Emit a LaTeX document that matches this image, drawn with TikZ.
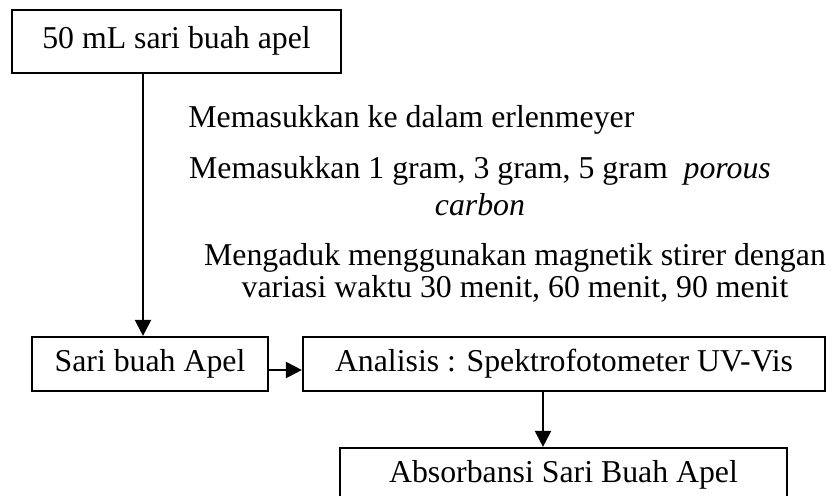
\documentclass[tikz,border=0pt]{standalone}
\usepackage{fontspec}
\setmainfont{Liberation Serif}
\usetikzlibrary{arrows.meta}
\begin{document}
\begin{tikzpicture}[x=0.5pt,y=-0.5pt,
  every node/.style={font=\fontsize{15.9pt}{19pt}\selectfont, inner sep=0pt},
  boxnode/.style={draw, line width=1.1pt, text height=0.8em, text depth=0.08em},
  txt/.style={anchor=base},
  arr/.style={line width=1.1pt, -{Triangle[length=8pt,width=8pt]}}]
\useasboundingbox (0,0) rectangle (837,495);
\clip (0,0) rectangle (837,495);
% boxes
\node[boxnode, minimum width=164.5pt, minimum height=31.5pt] (top) at (176.5,41.5) {50 mL sari buah apel};
\node[boxnode, minimum width=118pt, minimum height=27pt] (sari) at (150,364) {Sari buah Apel};
\node[boxnode, minimum width=261pt, minimum height=27pt] (anal) at (564,364) {Analisis : Spektrofotometer UV-Vis};
\node[boxnode, minimum width=223.5pt, minimum height=27.5pt] (abs) at (563.5,475.5) {Absorbansi Sari Buah Apel};
% step texts
\node[anchor=base west] (t1) at (188,127) {Memasukkan ke dalam erlenmeyer};
\node[txt] (t2a) at (480,178) {Memasukkan 1 gram, 3 gram, 5 gram~ \textit{porous}};
\node[txt] (t2b) at (480,215) {\textit{carbon}};
\node[txt] (t3a) at (515,265) {Mengaduk menggunakan magnetik stirer dengan};
\node[txt] (t3b) at (515,297) {variasi waktu 30 menit, 60 menit, 90 menit};
% connectors
\draw[arr] ([xshift=-16.75pt]top.south) -- ([xshift=-3.5pt]sari.north);
\draw[arr] ([yshift=-3pt]sari.east) -- ([yshift=-3pt]anal.west);
\draw[arr] ([xshift=-10.5pt]anal.south) -- ([xshift=-10.25pt]abs.north);
\end{tikzpicture}
\end{document}
